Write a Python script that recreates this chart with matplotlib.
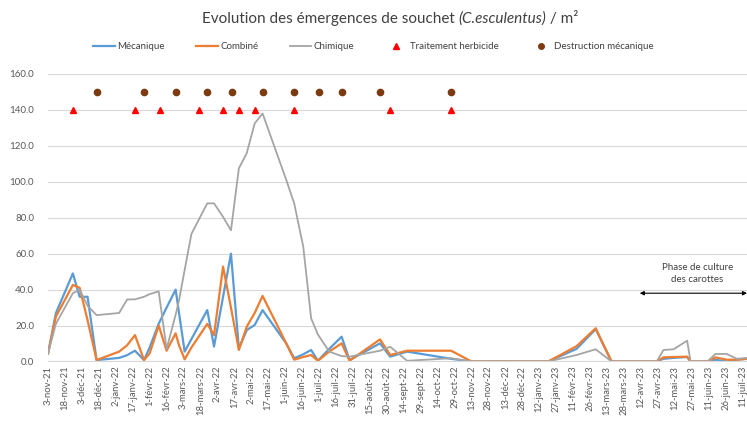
import numpy as np
import pandas as pd
import matplotlib
matplotlib.use("Agg")
import matplotlib.pyplot as plt
from matplotlib.lines import Line2D

plt.rcParams['font.family'] = ['Lato', 'DejaVu Sans']

# ---------------- données ----------------
dates = ['2021-11-03', '2021-11-10', '2021-11-25', '2021-12-01', '2021-12-08', '2021-12-16',
         '2022-01-05', '2022-01-12', '2022-01-19', '2022-01-27', '2022-02-01', '2022-02-09',
         '2022-02-16', '2022-02-24', '2022-02-27', '2022-03-04', '2022-03-10', '2022-03-24',
         '2022-03-30', '2022-04-07', '2022-04-14', '2022-04-21', '2022-04-28', '2022-05-05',
         '2022-05-12', '2022-06-02', '2022-06-09', '2022-06-17', '2022-06-24', '2022-06-30',
         '2022-07-10', '2022-07-21', '2022-07-28', '2022-08-24', '2022-09-02', '2022-09-17',
         '2022-10-26', '2022-11-13', '2023-01-20', '2023-02-14', '2023-03-03', '2023-03-17',
         '2023-04-26', '2023-05-02', '2023-05-11', '2023-05-23', '2023-05-26', '2023-06-10',
         '2023-06-17', '2023-06-27', '2023-07-06', '2023-07-15']

mecanique = [4.5, 27, 49, 36, 36, 0.8, 2, 3.5, 6, 0.8, 7.8, 21,
             30, 40, 27, 5.5, 12.5, 28.6, 8.3, 36, 60, 7.3, 17.5, 20.3,
             28.6, 10, 1.8, 4, 6.4, 0.4, 7, 13.8, 0.8, 10.1, 2.7, 5.5,
             1.5, 0, 0, 7, 18, 0, 0, 1.5, 2, 2.5, 0, 0,
             1, 0, 1, 1.5]

combine = [4.5, 25, 42.6, 41, 23, 0.8, 5.5, 9, 14.7, 0.8, 4.5, 20,
           6, 15.7, 9, 1.2, 7.8, 20.9, 14.7, 52.8, 30, 6.4, 19.4, 27,
           36.5, 10, 1, 2.5, 3.6, 0.4, 5.5, 10.1, 0.4, 12.3, 3.6, 6,
           6, 0, 0, 8.5, 18.5, 0, 0, 2.3, 2.5, 2.7, 0, 0,
           2.3, 1, 1, 1.5]

chimique = [4.5, 21, 38, 40, 31, 25.8, 27, 34.5, 34.6, 36, 37.5, 39,
            7, 26, 34, 51, 71, 88, 88, 80.5, 73, 107.5, 116, 132.5,
            138, 101, 88, 64, 24, 15, 5.5, 3, 2.7, 6, 8.2, 0.4,
            1.8, 0, 0, 3.6, 6.8, 0, 0, 6.4, 6.8, 11.6, 0, 0,
            4.2, 4.2, 1.5, 2]

traitement_dates = ['2021-11-25', '2022-01-19', '2022-02-10', '2022-03-17', '2022-04-07',
                    '2022-04-21', '2022-05-05', '2022-06-09', '2022-09-02', '2022-10-26']
traitement_y = 140

destruction_dates = ['2021-12-16', '2022-01-27', '2022-02-24', '2022-03-24', '2022-04-15',
                     '2022-05-12', '2022-06-09', '2022-07-01', '2022-07-21', '2022-08-24',
                     '2022-10-26']
destruction_y = 150

mois = ['janv', 'févr', 'mars', 'avr', 'mai', 'juin',
        'juil', 'août', 'sept', 'oct', 'nov', 'déc']
tick_dates = pd.date_range('2021-11-03', periods=42, freq='15D')
tick_labels = ['%d-%s-%s' % (d.day, mois[d.month - 1], d.strftime('%y')) for d in tick_dates]

# ---------------- figure ----------------
fig = plt.figure(figsize=(7.47, 4.23), dpi=100)
ax = fig.add_axes([0.0643, 0.1454, 0.9357, 0.6797])

x = pd.to_datetime(dates)
ax.plot(x, mecanique, color='#5B9BD5', lw=1.6, solid_joinstyle='round')
ax.plot(x, combine, color='#ED7D31', lw=1.6, solid_joinstyle='round')
ax.plot(x, chimique, color='#A5A5A5', lw=1.3, solid_joinstyle='round')

ax.plot(pd.to_datetime(traitement_dates), [traitement_y] * len(traitement_dates),
        ls='none', marker='^', color='#FF0000', ms=4)
ax.plot(pd.to_datetime(destruction_dates), [destruction_y] * len(destruction_dates),
        ls='none', marker='o', color='#7B3A10', ms=4.5)

ax.set_xlim(pd.Timestamp('2021-11-03'), pd.Timestamp('2023-07-15'))
ax.set_ylim(0, 160)
ax.set_yticks(np.arange(0, 161, 20))
ax.set_yticklabels(['%.1f' % v for v in np.arange(0, 161, 20)], fontsize=7, color='#595959')
ax.set_xticks(tick_dates)
ax.set_xticklabels(tick_labels, rotation=90, fontsize=6.8, color='#595959')
ax.tick_params(axis='both', length=0)
ax.tick_params(axis='y', pad=10)
ax.tick_params(axis='x', pad=3)

ax.grid(axis='y', color='#D9D9D9', lw=0.8)
ax.set_axisbelow(True)
for s in ['top', 'right', 'left']:
    ax.spines[s].set_visible(False)
ax.spines['bottom'].set_color('#D9D9D9')

# flèche phase de culture
ax.annotate('', xy=(pd.Timestamp('2023-07-15'), 38), xytext=(pd.Timestamp('2023-04-11'), 38),
            arrowprops=dict(arrowstyle='<|-|>', color='black', lw=0.8,
                            mutation_scale=6, shrinkA=0, shrinkB=0),
            annotation_clip=False)
ax.text(pd.Timestamp('2023-06-01'), 49, 'Phase de culture\ndes carottes', ha='center',
        va='center', fontsize=7, color='#404040', linespacing=1.5)

# titre en trois morceaux (partie en italique)
parts = [('Evolution des émergences de souchet ', 'normal'),
         ('(C.esculentus)', 'italic'),
         (' / m²', 'normal')]
renderer = fig.canvas.get_renderer()
txts = [fig.text(0, 0.955, p, style=st, ha='left', va='center', fontsize=11, color='#404040')
        for p, st in parts]
widths = [t.get_window_extent(renderer).width / fig.bbox.width for t in txts]
x0 = 0.522 - sum(widths) / 2
for t, w in zip(txts, widths):
    t.set_x(x0)
    x0 += w

handles = [Line2D([], [], color='#5B9BD5', lw=1.6),
           Line2D([], [], color='#ED7D31', lw=1.6),
           Line2D([], [], color='#A5A5A5', lw=1.3),
           Line2D([], [], ls='none', marker='^', color='#FF0000', ms=4),
           Line2D([], [], ls='none', marker='o', color='#7B3A10', ms=4)]
labels = ['Mécanique', 'Combiné', 'Chimique', 'Traitement herbicide', 'Destruction mécanique']
fig.legend(handles, labels, loc='center', bbox_to_anchor=(0.5, 0.889), ncol=5,
           frameon=False, fontsize=7, handlelength=2.2, handletextpad=0.3,
           columnspacing=3.2, labelcolor='#404040')

fig.savefig('out.png', dpi=100)
